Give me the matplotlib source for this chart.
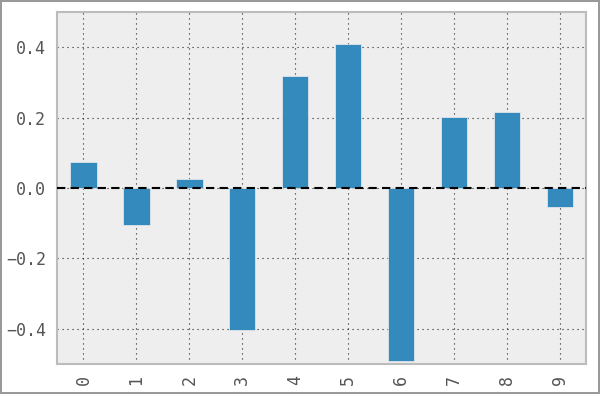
import numpy as np
import matplotlib.pyplot as plt

# bar values
labels = ['0', '1', '2', '3', '4', '5', '6', '7', '8', '9']
values = [0.074, -0.105, 0.026, -0.403, 0.318, 0.409, -0.491, 0.201, 0.216, -0.054]

plt.rcParams['font.family'] = 'DejaVu Sans Mono'

fig = plt.figure(figsize=(6, 3.94), dpi=100, facecolor='white',
                 edgecolor='#999999', linewidth=1.5)
ax = fig.add_axes([0.095, 0.076, 0.882, 0.8935])
ax.set_facecolor('#eeeeee')

x = np.arange(len(labels))
ax.bar(x, values, width=0.5, color='#348ABD', edgecolor='#eeeeee', linewidth=0.5, zorder=2)
ax.axhline(0, color='black', linestyle=(0, (4, 2.5)), linewidth=1.5, zorder=3)

ax.set_xlim(-0.5, 9.5)
ax.set_ylim(-0.5, 0.5)
ax.set_xticks(x)
ax.set_xticklabels(labels, rotation=90)
ax.set_yticks([-0.4, -0.2, 0.0, 0.2, 0.4])
ax.tick_params(length=0, labelsize=12, colors='#555555', pad=8)
ax.grid(True, color='#222222', linestyle=(0, (1, 3.5)), linewidth=0.8)
ax.set_axisbelow(True)
for s in ax.spines.values():
    s.set_color('#bcbcbc')
    s.set_linewidth(1.5)

fig.savefig('out.png', dpi=100, edgecolor=fig.get_edgecolor())
